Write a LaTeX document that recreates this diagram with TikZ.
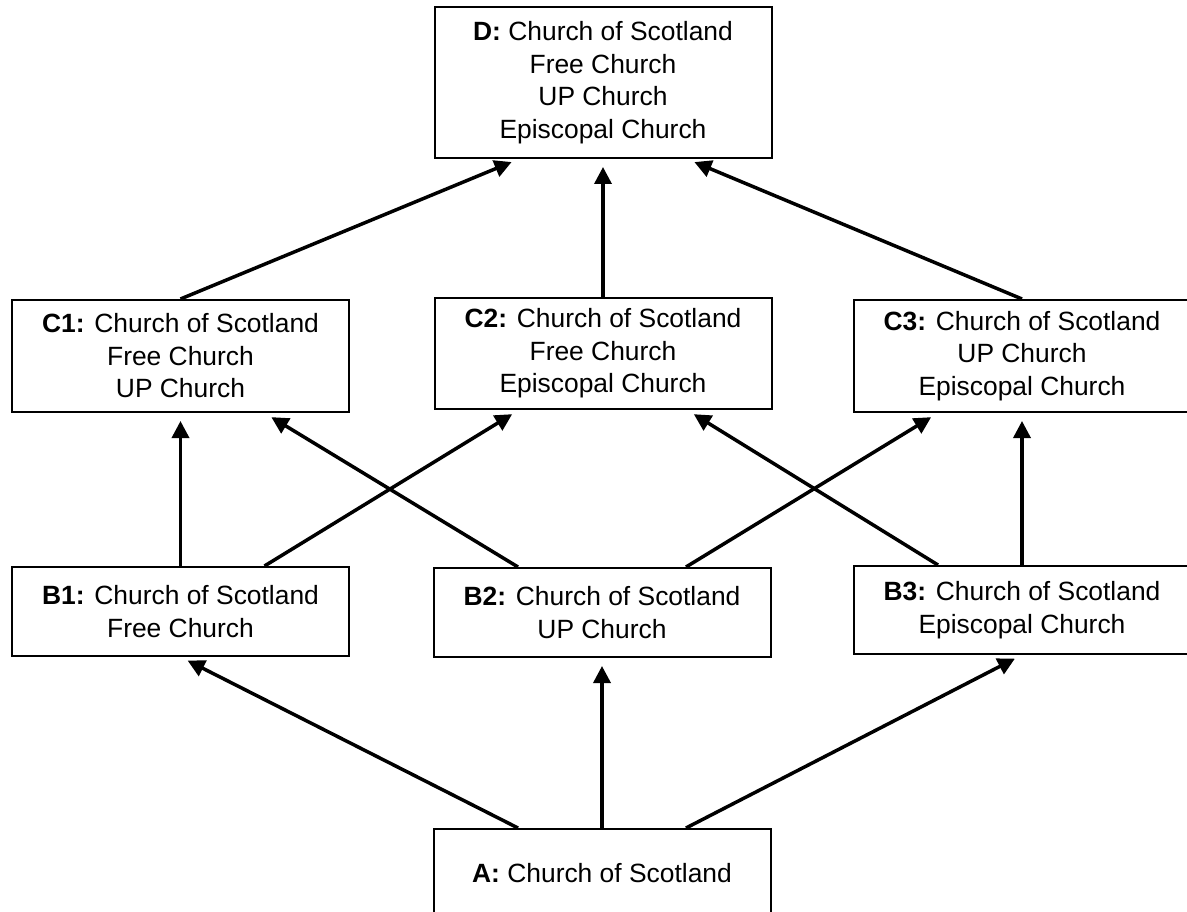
\documentclass[tikz,border=0pt]{standalone}
\usepackage{fontspec}
\setmainfont{Liberation Sans}
\usetikzlibrary{arrows.meta,calc}
\tikzset{
  box/.style={draw, line width=2pt, align=center, inner sep=0pt, minimum width=337pt,
    font=\fontsize{26.4}{32.5}\selectfont},
  arr/.style={line width=3.5pt, -{Triangle[length=17pt,width=17pt]}, shorten >=8pt}
}
\begin{document}
\begin{tikzpicture}[x=1pt,y=-1pt]
\useasboundingbox (0,0) rectangle (1187,912);
\fill[white] (0,0) rectangle (1187,912);
\clip (0,0) rectangle (1187,912);
\node[box, minimum height=151pt] (D) at (603,82.5) {\textbf{D:} Church of Scotland\\Free Church\\UP Church\\Episcopal Church};
\node[box, minimum height=112pt] (C1) at (180.5,356) {\textbf{C1:} Church of Scotland\\Free Church\\UP Church};
\node[box, minimum height=111pt] (C2) at (603,353.5) {\textbf{C2:} Church of Scotland\\Free Church\\Episcopal Church};
\node[box, minimum height=112pt] (C3) at (1022,356) {\textbf{C3:} Church of Scotland\\UP Church\\Episcopal Church};
\node[box, minimum height=89pt] (B1) at (180.5,611.5) {\textbf{B1:} Church of Scotland\\Free Church};
\node[box, minimum height=89pt] (B2) at (602,612.5) {\textbf{B2:} Church of Scotland\\UP Church};
\node[box, minimum height=88pt] (B3) at (1022,610) {\textbf{B3:} Church of Scotland\\Episcopal Church};
\node[box, minimum height=89pt] (A) at (602,873.5) {\textbf{A:} Church of Scotland};
% A -> B
\draw[arr] ($(A.north)+(-84,0)$) -- (B1.south);
\draw[arr] (A.north) -- (B2.south);
\draw[arr] ($(A.north)+(84,0)$) -- (B3.south);
% B -> C
\draw[arr] (B1.north) -- (C1.south);
\draw[arr] ($(B1.north)+(84,0)$) -- ($(C2.south)+(-84,0)$);
\draw[arr] ($(B2.north)+(-84,0)$) -- ($(C1.south)+(84,0)$);
\draw[arr] ($(B2.north)+(84,0)$) -- ($(C3.south)+(-84,0)$);
\draw[arr] ($(B3.north)+(-84,0)$) -- ($(C2.south)+(84,0)$);
\draw[arr] (B3.north) -- (C3.south);
% C -> D
\draw[arr] (C1.north) -- ($(D.south)+(-84,0)$);
\draw[arr] (C2.north) -- (D.south);
\draw[arr] (C3.north) -- ($(D.south)+(84,0)$);
\end{tikzpicture}
\end{document}
